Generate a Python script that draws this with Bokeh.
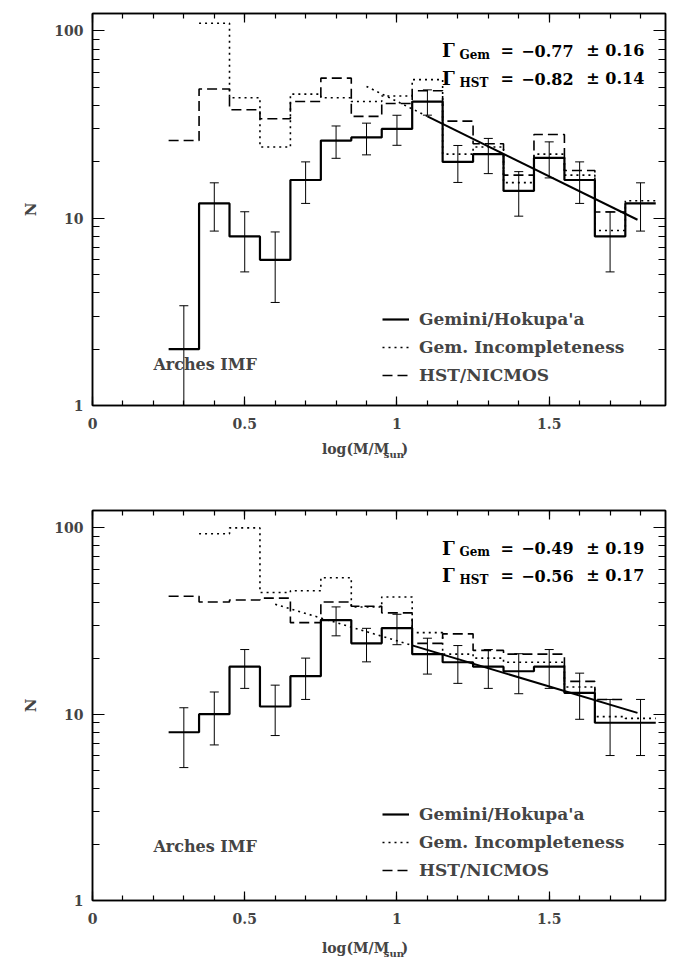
import numpy as np
from bokeh.plotting import figure
from bokeh.models import (Range1d, FixedTicker, LinearAxis, LogAxis, Label,
                          Legend, LegendItem, PrintfTickFormatter)
from bokeh.layouts import column
from bokeh.embed import file_html
from bokeh.resources import INLINE

# ---------------- data ----------------
BIN_W = 0.1
gem_centers = [0.3, 0.4, 0.5, 0.6, 0.7, 0.8, 0.9, 1.0, 1.1, 1.2, 1.3, 1.4, 1.5, 1.6, 1.7, 1.8]
inc_centers = [0.4, 0.5, 0.6, 0.7, 0.8, 0.9, 1.0, 1.1, 1.2, 1.3, 1.4, 1.5, 1.6, 1.7, 1.8]
hst_centers = [0.3, 0.4, 0.5, 0.6, 0.7, 0.8, 0.9, 1.0, 1.1, 1.2, 1.3, 1.4, 1.5, 1.6, 1.7]

# upper panel
top_gem = [2, 12, 8, 6, 16, 26, 27, 30, 42, 20, 22, 14, 21, 16, 8, 12]
top_gem_err = [1.41, 3.46, 2.83, 2.45, 4.0, 5.10, 5.20, 5.48, 6.48, 4.47, 4.69, 3.74, 4.58, 4.0, 2.83, 3.46]
top_inc = [110, 44, 24, 46, 44, 42, 45, 55, 22, 24, 15.5, 22, 17, 8.6, 12.4]
top_hst = [26, 49, 38, 34, 42, 56, 35, 41, 48, 33, 25, 17, 28, 18, 10.8]
top_fit = {"slope": -0.80, "intercept": 2.424, "x_extrap": 0.9, "x_start": 1.1, "x_end": 1.79}
top_gamma = [("Gem", "\u22120.77", "\u00b1 0.16"), ("HST", "\u22120.82", "\u00b1 0.14")]

# lower panel
bot_gem = [8, 10, 18, 11, 16, 32, 24, 29, 21, 19, 18, 17, 18, 13, 9, 9]
bot_gem_err = [2.83, 3.16, 4.24, 3.32, 4.0, 5.66, 4.90, 5.39, 4.58, 4.36, 4.24, 4.12, 4.24, 3.61, 3.0, 3.0]
bot_inc = [93, 100, 45, 46, 54, 37.6, 42.6, 27.4, 21, 20, 19, 19, 14, 9.7, 9.5]
bot_hst = [43, 40, 41, 42, 31, 40, 38, 35, 24, 27, 22, 21, 21, 15, 12]
bot_fit = {"slope": -0.49, "intercept": 1.884, "x_extrap": 0.6, "x_start": 1.05, "x_end": 1.79}
bot_gamma = [("Gem", "\u22120.49", "\u00b1 0.19"), ("HST", "\u22120.56", "\u00b1 0.17")]

x_major = [0, 0.5, 1, 1.5]
x_major_labels = ["0", "0.5", "1", "1.5"]
x_minor = [round(0.1 * i, 1) for i in range(0, 19)]
y_major = [1, 10, 100]
y_minor = [2, 3, 4, 5, 6, 7, 8, 9, 20, 30, 40, 50, 60, 70, 80, 90]

x_title_main = "log(M/M"
x_title_sub = "sun"
x_title_end = ")"
legend_labels = ["Gemini/Hokupa'a", "Gem. Incompleteness", "HST/NICMOS"]
panel_note = "Arches IMF"

FONT = "DejaVu Serif"
DOT = "2 4"
DASH = "10 5"
Y_TOP = 124.0


def step_xy(centers, vals, w=BIN_W):
    xs, ys = [], []
    for c, v in zip(centers, vals):
        xs += [c - w / 2, c + w / 2]
        ys += [v, v]
    return xs, ys


def ypos(sy, frame_h):
    """pixel height above the frame bottom -> data value on the log axis"""
    return 10 ** (sy / frame_h * np.log10(Y_TOP))


def style_axis(ax, mj, mn):
    ax.major_tick_in = mj
    ax.major_tick_out = 0
    ax.minor_tick_in = mn
    ax.minor_tick_out = 0
    ax.axis_line_width = 1.5
    ax.major_tick_line_width = 1.2
    ax.minor_tick_line_width = 1.2


def text_axis(positions, labels, size, standoff):
    """an axis with no line or ticks, used only to write the x title below the frame"""
    ax = LinearAxis(ticker=FixedTicker(ticks=positions, minor_ticks=[]),
                    major_label_overrides={k: v for k, v in zip(positions, labels)},
                    major_label_text_font=FONT, major_label_text_font_style="bold",
                    major_label_text_font_size=size, major_label_standoff=standoff,
                    axis_line_color=None, major_tick_line_color=None,
                    minor_tick_line_color=None, major_tick_in=0, major_tick_out=0,
                    minor_tick_in=0, minor_tick_out=0)
    return ax


def make_panel(gem, gem_err, inc, hst, fit, gamma, height, b_top, b_bottom, fh, title_gap):
    p = figure(width=683, height=height, x_range=Range1d(0, 1.882), y_range=Range1d(1, Y_TOP),
               y_axis_type="log", output_backend="svg", toolbar_location=None,
               min_border_left=92, min_border_right=18, min_border_top=b_top,
               min_border_bottom=b_bottom)
    p.grid.visible = False
    p.outline_line_color = "black"
    p.outline_line_width = 1.5
    p.background_fill_color = "white"

    # axes
    xa = p.xaxis[0]
    xa.ticker = FixedTicker(ticks=x_major, minor_ticks=x_minor)
    xa.major_label_overrides = {k: v for k, v in zip(x_major, x_major_labels)}
    ya = p.yaxis[0]
    ya.ticker = FixedTicker(ticks=y_major, minor_ticks=y_minor)
    ya.formatter = PrintfTickFormatter(format="%d")
    ya.axis_label = "N"
    ya.axis_label_standoff = 11
    ya.axis_label_text_font = FONT
    ya.axis_label_text_font_style = "bold"
    ya.axis_label_text_font_size = "15px"
    for ax, mj, mn in ((xa, 9, 5), (ya, 12, 7)):
        style_axis(ax, mj, mn)
        ax.major_label_text_font = FONT
        ax.major_label_text_font_style = "bold"
        ax.major_label_text_font_size = "14px"
    xa.major_label_standoff = 12
    ya.major_label_standoff = 9
    top_ax = LinearAxis(ticker=FixedTicker(ticks=x_major, minor_ticks=x_minor),
                        major_label_text_font_size="1px", major_label_text_alpha=0,
                        major_label_standoff=0)
    right_ax = LogAxis(ticker=FixedTicker(ticks=y_major, minor_ticks=y_minor),
                       major_label_text_font_size="1px", major_label_text_alpha=0,
                       major_label_standoff=0)
    style_axis(top_ax, 9, 5)
    style_axis(right_ax, 12, 7)
    p.add_layout(top_ax, "above")
    p.add_layout(right_ax, "right")

    # x title "log(M/M_sun)" written by two label-only axes (second one lower: subscript)
    p.add_layout(text_axis([0.864, 1.026], [x_title_main, x_title_end], "14px", title_gap), "below")
    p.add_layout(text_axis([0.990], [x_title_sub], "10px", -11), "below")

    # histograms
    gx, gy = step_xy(gem_centers, gem)
    r_gem = p.line(gx, gy, line_color="black", line_width=2.2)
    ix, iy = step_xy(inc_centers, inc)
    r_inc = p.line(ix, iy, line_color="black", line_width=1.6, line_dash=DOT)
    hx, hy = step_xy(hst_centers, hst)
    r_hst = p.line(hx, hy, line_color="black", line_width=1.6, line_dash=DASH)

    # Poisson error bars
    c = np.array(gem_centers)
    v = np.array(gem, dtype=float)
    e = np.array(gem_err)
    p.segment(x0=c, y0=v - e, x1=c, y1=v + e, line_color="black", line_width=1)
    p.scatter(x=c, y=v + e, marker="dash", size=9, line_color="black", line_width=1)
    p.scatter(x=c, y=v - e, marker="dash", size=9, line_color="black", line_width=1)

    # power-law fit (solid) and its extrapolation (dotted)
    xd = np.array([fit["x_extrap"], fit["x_start"]])
    xs = np.array([fit["x_start"], fit["x_end"]])
    p.line(xd, 10 ** (fit["intercept"] + fit["slope"] * xd), line_color="black",
           line_width=1.6, line_dash=DOT)
    p.line(xs, 10 ** (fit["intercept"] + fit["slope"] * xs), line_color="black", line_width=2)

    # gamma annotations
    common = dict(text_font=FONT, text_font_style="bold",
                  text_baseline="alphabetic", text_color="black")
    for (sub, val, err), sy in zip(gamma, (355, 327)):
        p.add_layout(Label(x=1.148, y=ypos(sy, fh), text="\u0393", text_font_size="18px", **common))
        p.add_layout(Label(x=1.205, y=ypos(sy - 4, fh), text=sub, text_font_size="12px", **common))
        p.add_layout(Label(x=1.362, y=ypos(sy, fh), text="=", text_align="center",
                           text_font_size="16px", **common))
        p.add_layout(Label(x=1.408, y=ypos(sy, fh), text=val, text_font_size="16px", **common))
        p.add_layout(Label(x=1.622, y=ypos(sy, fh), text=err, text_font_size="16px", **common))

    # legend
    legend = Legend(items=[LegendItem(label=legend_labels[0], renderers=[r_gem]),
                           LegendItem(label=legend_labels[1], renderers=[r_inc]),
                           LegendItem(label=legend_labels[2], renderers=[r_hst])],
                    location=(290, 20))
    legend.background_fill_alpha = 0
    legend.border_line_alpha = 0
    legend.glyph_width = 27
    legend.glyph_height = 20
    legend.label_height = 20
    legend.spacing = 8
    legend.padding = 0
    legend.margin = 0
    legend.label_standoff = 10
    legend.label_text_font = FONT
    legend.label_text_font_style = "bold"
    legend.label_text_font_size = "17px"
    p.add_layout(legend)

    return p


FH1, FH2 = 392, 393
p1 = make_panel(top_gem, top_gem_err, top_inc, top_hst, top_fit, top_gamma, 470, 13, 65, FH1, 9)
p1.add_layout(Label(x=0.2, y=ypos(41, FH1), text=panel_note, text_font=FONT,
                    text_font_style="bold", text_font_size="16px", text_baseline="middle"))
p2 = make_panel(bot_gem, bot_gem_err, bot_inc, bot_hst, bot_fit, bot_gamma, 491, 40, 58, FH2, 13)
p2.add_layout(Label(x=0.2, y=ypos(54, FH2), text=panel_note, text_font=FONT,
                    text_font_style="bold", text_font_size="16px", text_baseline="middle"))

layout = column(p1, p2)
open("out.html", "w").write(file_html(layout, INLINE))
